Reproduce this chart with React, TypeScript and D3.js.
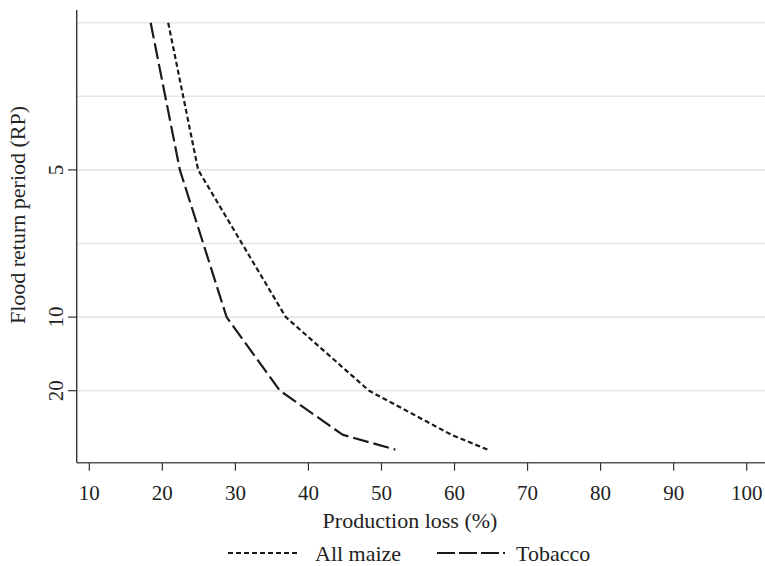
import React from "react";
import * as d3 from "d3";

// Exceedance probability (1/RP) of each point
const probs = [0.3, 0.2, 0.1, 0.05, 0.02, 0.01];
const maizeLoss = [20.8, 24.9, 36.9, 48.3, 59.6, 64.5];
const tobaccoLoss = [18.4, 22.4, 28.8, 36.1, 44.7, 51.9];
const rpTicks = [5, 10, 20];
const gridProbs = [0.3, 0.25, 0.2, 0.15, 0.1, 0.05];
const xTicks = [10, 20, 30, 40, 50, 60, 70, 80, 90, 100];
const seriesNames = ["All maize", "Tobacco"];

const W = 765;
const H = 566;
const left = 76.7;
const right = 766;
const top = 10;
const bottom = 462.7;

export default function App() {
  const x = d3.scaleLinear().domain([10, 100]).range([89.3, 746.7]);
  const y = d3.scaleLinear().domain([0.05, 0.3]).range([390.7, 22.7]);
  const line = d3
    .line<[number, number]>()
    .x((d) => x(d[0]))
    .y((d) => y(d[1]));
  const maize: [number, number][] = maizeLoss.map((v, i) => [v, probs[i]]);
  const tobacco: [number, number][] = tobaccoLoss.map((v, i) => [v, probs[i]]);
  const font = "'Liberation Serif', 'Times New Roman', serif";
  const ink = "#1a1a1a";
  return (
    <svg
      width={W}
      height={H}
      style={{ position: "absolute", left: 0, top: 0, background: "#fff" }}
      fontFamily={font}
    >
      {gridProbs.map((p) => (
        <line key={p} x1={left} x2={right} y1={y(p)} y2={y(p)} stroke="#e6e6e6" strokeWidth={1.6} />
      ))}
      <path d={line(maize) || ""} fill="none" stroke={ink} strokeWidth={2.2} strokeDasharray="5 3" />
      <path d={line(tobacco) || ""} fill="none" stroke={ink} strokeWidth={2.2} strokeDasharray="16 5" />
      {/* y axis */}
      <line x1={left} x2={left} y1={top} y2={bottom} stroke="#333" strokeWidth={1.4} />
      {rpTicks.map((rp) => (
        <g key={rp}>
          <line x1={68} x2={left} y1={y(1 / rp)} y2={y(1 / rp)} stroke="#333" strokeWidth={1.2} />
          <text
            transform={`translate(63,${y(1 / rp)}) rotate(-90)`}
            textAnchor="middle"
            fontSize={21}
            fill="#222"
          >
            {rp}
          </text>
        </g>
      ))}
      <text transform={`translate(25,215) rotate(-90)`} textAnchor="middle" fontSize={22} fill="#222">
        Flood return period (RP)
      </text>
      {/* x axis */}
      <line x1={left} x2={right} y1={bottom} y2={bottom} stroke="#555" strokeWidth={1.4} />
      {xTicks.map((t) => (
        <g key={t}>
          <line x1={x(t)} x2={x(t)} y1={bottom} y2={bottom + 8} stroke="#333" strokeWidth={1.2} />
          <text x={x(t)} y={500} textAnchor="middle" fontSize={21} fill="#222">
            {t}
          </text>
        </g>
      ))}
      <text x={410} y={528} textAnchor="middle" fontSize={22} fill="#222">
        Production loss (%)
      </text>
      {/* legend */}
      <line x1={228} x2={300} y1={553} y2={553} stroke={ink} strokeWidth={2.2} strokeDasharray="5 3" />
      <text x={315} y={561} fontSize={22} fill="#222">
        {seriesNames[0]}
      </text>
      <line x1={437} x2={505} y1={553} y2={553} stroke={ink} strokeWidth={2.2} strokeDasharray="18 4" />
      <text x={516} y={561} fontSize={22} fill="#222">
        {seriesNames[1]}
      </text>
    </svg>
  );
}
